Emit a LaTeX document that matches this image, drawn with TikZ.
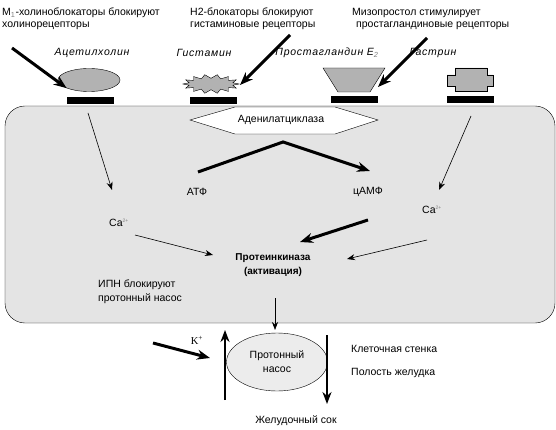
\documentclass[tikz,border=0pt]{standalone}
\usepackage{fontspec}
\setmainfont{Liberation Sans}
\newfontfamily\serifK{Liberation Serif}
\usepackage{xcolor}
\usetikzlibrary{arrows.meta,shapes.geometric}
\definecolor{cellgray}{RGB}{228,228,228}
\definecolor{recgray}{RGB}{178,178,178}
\tikzset{
  every node/.style={font=\fontsize{10.5}{12}\selectfont},
  bar/.style={fill=black,inner sep=0pt,minimum width=47pt,minimum height=7pt},
  ligand/.style={font=\fontsize{10.5}{12}\selectfont\itshape\addfontfeatures{LetterSpace=7}},
  thinarrow/.style={-{Stealth[length=8pt,width=6pt]},line width=0.6pt},
  fatarrow/.style={-{Stealth[length=13pt,width=10pt]},line width=3pt}
}

\begin{document}
\begin{tikzpicture}[x=1pt,y=-1pt]
\useasboundingbox (0,0) rectangle (556,430);
\draw[fill=cellgray,rounded corners=20pt] (5,106) rectangle (555,323);

\node(mtext) at (2,8)[anchor=north west,inner sep=0pt,align=left] {М\textsubscript{\color{gray}1}-холиноблокаторы блокируют\\холинорецепторы};
\node(htext) at (190,8)[anchor=north west,inner sep=0pt,align=left] {Н2-блокаторы блокируют\\гистаминовые рецепторы};
\node(ptext) at (352,8)[anchor=north west,inner sep=0pt,align=left] {Мизопростол стимулирует\\\hspace*{4pt}простагландиновые рецепторы};

\node(achname) at (92,53)[ligand] {Ацетилхолин};
\node(histname) at (204,53)[ligand] {Гистамин};
\node(prostname) at (327,53)[ligand] {Простагландин E\textsubscript{\color{gray}2}};
\node(gastname) at (433,53)[ligand] {Гастрин};

\node(ach) at (89,80)[ellipse,draw,fill=recgray,minimum width=62pt,minimum height=23pt,inner sep=0pt] {};
\draw[fill=recgray] plot[samples at={0,...,27}]
  ({211+28*(1-0.2*mod(\x,2))*cos(\x*360/28)},{84+9.5*(1-0.4*mod(\x,2))*sin(\x*360/28)}) -- cycle;
\draw[fill=recgray] (323,68) -- (385,68) -- (370,92) -- (338,92) -- cycle;
\draw[fill=recgray] (455,68) -- (487,68) -- (487,75) -- (493,75) -- (493,86) -- (487,86)
  -- (487,91) -- (455,91) -- (455,86) -- (447,86) -- (447,75) -- (455,75) -- cycle;

\node(barA) at (90.5,101)[bar] {};
\node(barH) at (213.5,101)[bar] {};
\node(barP) at (354.5,100)[bar] {};
\node(barG) at (470.5,100)[bar] {};

\draw[fill=white] (190,120) -- (235,107) -- (335,107) -- (378,120) -- (335,134) -- (235,134) -- cycle;
\node(ac) at (281,120) {Аденилатциклаза};

\node(atp) at (197,192) {АТФ};
\node(camp) at (368,192) {цАМФ};
\node(caL) at (119,223) {Ca\textsuperscript{\color{gray}\tiny 2+}};
\node(caR) at (432,210) {Ca\textsuperscript{\color{gray}\tiny 2+}};
\node(pk) at (273,265)[align=center,font=\fontsize{10}{14}\selectfont\bfseries] {Протеинкиназа\\(активация)};
\node(ipn) at (98,280)[anchor=north west,inner sep=0pt,align=left] {ИПН блокируют\\[2pt]протонный насос};

\node(pump) at (277,362)[ellipse,draw,fill=cellgray!70,minimum width=101pt,minimum height=58pt,inner sep=0pt,align=center] {Протонный\\[2pt]насос};
\node(kplus) at (197,340)[font=\serifK\fontsize{10.5}{12}\selectfont] {K\textsuperscript{+}};
\node(wall) at (351,349)[anchor=west,inner sep=0pt] {Клеточная стенка};
\node(lumen) at (351,373)[anchor=west,inner sep=0pt] {Полость желудка};
\node(juice) at (296,421) {Желудочный сок};

\coordinate(achin) at (12,48);
\coordinate(histin) at (290,35);
\coordinate(histtip) at (240,85);
\coordinate(prostin) at (427,38);
\coordinate(prosttip) at (378,87);
\coordinate(atpout) at (198,172);
\coordinate(bend) at (283,142);
\coordinate(campin) at (370,171);
\coordinate(campout) at (368,220);
\coordinate(pkcamp) at (300,242);
\coordinate(achout) at (88,113);
\coordinate(caLin) at (112,190);
\coordinate(gastout) at (471,116);
\coordinate(caRin) at (439,190);
\coordinate(caLout) at (135,235);
\coordinate(pkleft) at (213,255);
\coordinate(caRout) at (427,240);
\coordinate(pkright) at (347,259);
\coordinate(pkout) at (275,298);
\coordinate(pumpin) at (275,330);
\coordinate(kin) at (153,343);
\coordinate(ktip) at (210,358);
\coordinate(upfoot) at (225,400);
\coordinate(uptip) at (225,330);
\coordinate(downfoot) at (327,335);
\coordinate(downtip) at (327,404);

\path[fatarrow]
  (achin)    edge  (ach.200)
  (histin)   edge  (histtip)
  (prostin)  edge  (prosttip)
  (campout)  edge  (pkcamp)
  (kin)      edge  (ktip);
\draw[fatarrow] (atpout) -- (bend) -- (campin);

\path[thinarrow]
  (achout)   edge  (caLin)
  (gastout)  edge  (caRin)
  (caLout)   edge  (pkleft)
  (caRout)   edge  (pkright)
  (pkout)    edge  (pumpin);

\path[-{Stealth[length=12pt,width=9pt]},line width=2.5pt]
  (upfoot)   edge  (uptip)
  (downfoot) edge  (downtip);

\end{tikzpicture}
\end{document}
